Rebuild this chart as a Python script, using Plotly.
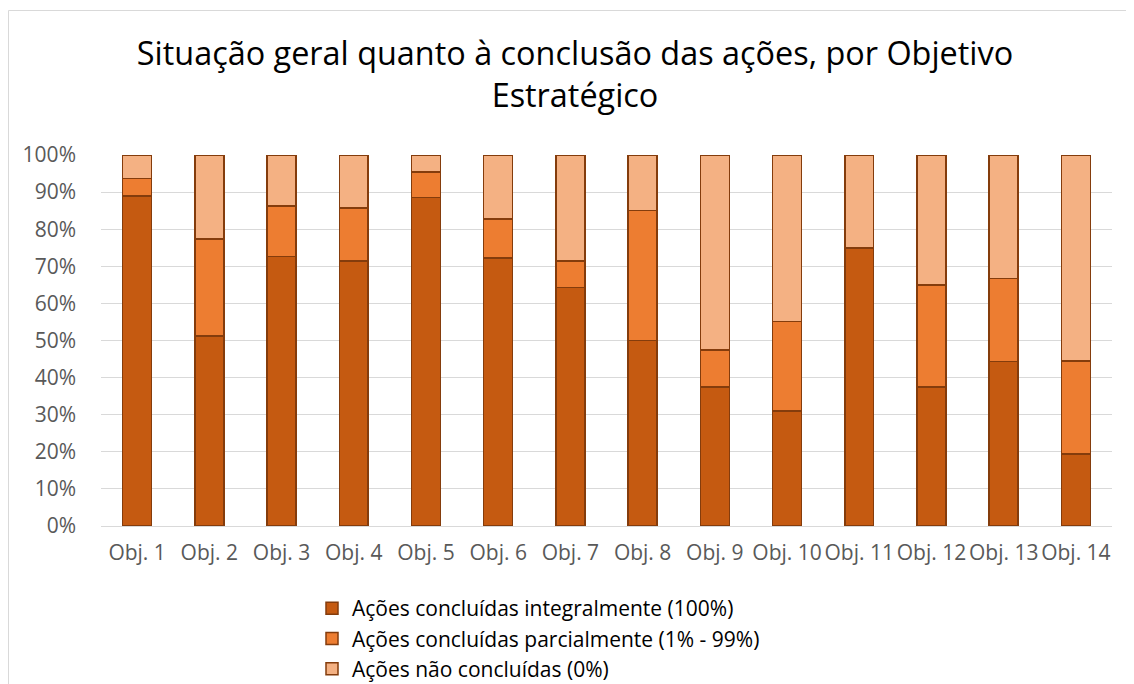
import plotly.graph_objects as go

categories = ["Obj. 1", "Obj. 2", "Obj. 3", "Obj. 4", "Obj. 5", "Obj. 6", "Obj. 7",
              "Obj. 8", "Obj. 9", "Obj. 10", "Obj. 11", "Obj. 12", "Obj. 13", "Obj. 14"]
integral = [88.9, 51.2, 72.7, 71.4, 88.6, 72.3, 64.3, 50.0, 37.5, 31.0, 75.0, 37.5, 44.4, 19.4]
parcial = [4.7, 26.2, 13.6, 14.3, 6.8, 10.4, 7.1, 35.0, 10.0, 24.1, 0.0, 27.4, 22.3, 25.1]
nao = [6.4, 22.6, 13.7, 14.3, 4.6, 17.3, 28.6, 15.0, 52.5, 44.9, 25.0, 35.1, 33.3, 55.5]

names = ["Ações concluídas integralmente (100%)",
         "Ações concluídas parcialmente (1% - 99%)",
         "Ações não concluídas (0%)"]
colors = ["#C55A11", "#ED7D31", "#F4B183"]
FONT = "Open Sans, sans-serif"

# page body adds an 8px offset, so the figure is drawn 8px smaller
W, H = 1126, 676
L, R, T, B = 93, 22, 147, 158

fig = go.Figure()
for vals, name, col in zip([integral, parcial, nao], names, colors):
    fig.add_trace(go.Bar(
        x=categories, y=[v / 100 for v in vals], name=name,
        marker=dict(color=col, line=dict(color="#843C0C", width=1.5)),
        width=0.4,
    ))

pw = W - L - R
ph = H - T - B
fig.update_layout(
    width=W, height=H,
    barmode="stack",
    paper_bgcolor="white", plot_bgcolor="white",
    margin=dict(l=L, r=R, t=T, b=B, autoexpand=False),
    title=dict(text="Situação geral quanto à conclusão das ações, por Objetivo<br>Estratégico",
               x=567 / W, xanchor="center", xref="container",
               y=1 - 57 / H, yanchor="top", yref="container",
               font=dict(family=FONT, size=32.4, color="#000000")),
    font=dict(family=FONT, size=21, color="#595959"),
    showlegend=True,
    legend=dict(orientation="v", xref="container", yref="container",
                x=304 / W, xanchor="left", y=1 - 580 / H, yanchor="top",
                traceorder="normal", font=dict(family=FONT, size=21, color="#000000"),
                itemwidth=30, tracegroupgap=0, bgcolor="rgba(0,0,0,0)"),
    shapes=[dict(type="rect", xref="paper", yref="paper",
                 x0=(0.5 - L) / pw, x1=(1119 - L) / pw,
                 y0=(H - B - 720) / ph, y1=(H - B - 2.5) / ph,
                 line=dict(color="#D9D9D9", width=1), fillcolor="rgba(0,0,0,0)", layer="below")],
)
fig.update_yaxes(range=[0, 1], tickformat=".0%", dtick=0.1, showgrid=True,
                 gridcolor="#D9D9D9", gridwidth=1, zeroline=False,
                 showline=False, ticks="", ticklabelstandoff=24, automargin=False,
                 tickfont=dict(family=FONT, size=21, color="#595959"))
fig.update_xaxes(showline=True, linecolor="#D9D9D9", linewidth=1, ticks="",
                 tickangle=0, automargin=False, ticklabelstandoff=8,
                 tickfont=dict(family=FONT, size=21, color="#595959"))

fig.write_html("out.html")
